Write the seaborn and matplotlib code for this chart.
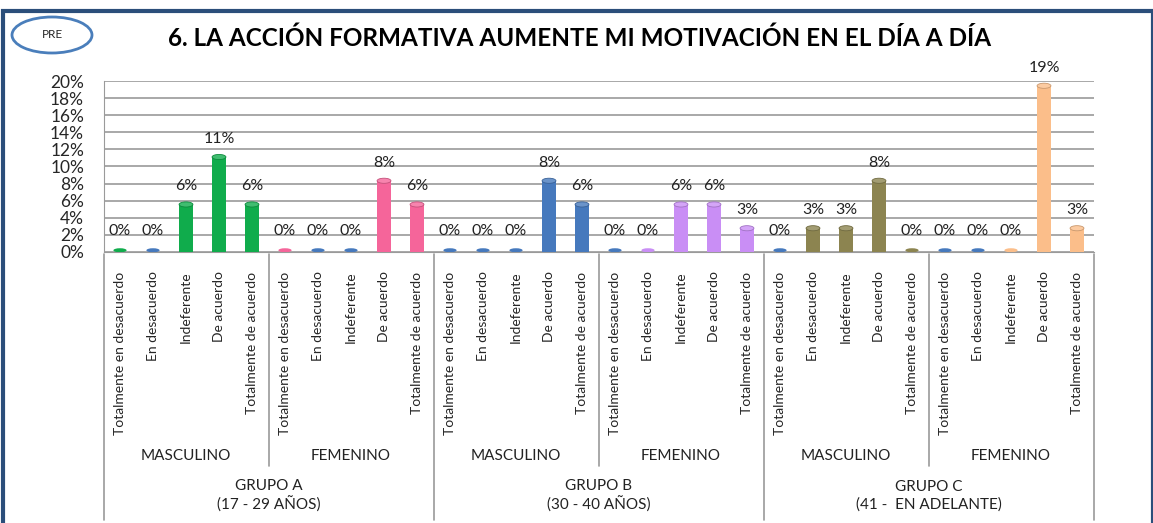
import numpy as np
import pandas as pd
import matplotlib.pyplot as plt
import seaborn as sns
from matplotlib.patches import Ellipse, Rectangle
import matplotlib.transforms as mtransforms

# data
respuestas = ['Totalmente en desacuerdo', 'En desacuerdo', 'Indeferente',
              'De acuerdo', 'Totalmente de acuerdo']
sexos = ['MASCULINO', 'FEMENINO']
grupos = ['GRUPO A\n(17 - 29 AÑOS)', 'GRUPO B\n(30 - 40 AÑOS)', 'GRUPO C\n(41 -  EN ADELANTE)']

a_masc = [0.0, 0.0, 0.0556, 0.1111, 0.0556]
a_fem = [0.0, 0.0, 0.0, 0.0833, 0.0556]
b_masc = [0.0, 0.0, 0.0, 0.0833, 0.0556]
b_fem = [0.0, 0.0, 0.0556, 0.0556, 0.0278]
c_masc = [0.0, 0.0278, 0.0278, 0.0833, 0.0]
c_fem = [0.0, 0.0, 0.0, 0.1944, 0.0278]

values = a_masc + a_fem + b_masc + b_fem + c_masc + c_fem

green, pink, blue = '#10AC4C', '#F5659A', '#4679BD'
violet, olive, peach = '#C98EF5', '#8C8450', '#FBBE8A'
colors = ([green, blue, green, green, green] + [pink, blue, blue, pink, pink] +
          [blue] * 5 + [blue, violet, violet, violet, violet] +
          [blue, olive, olive, olive, olive] + [blue, blue, peach, peach, peach])

df = pd.DataFrame({'pos': range(len(values)), 'valor': values, 'color': colors,
                   'resp': respuestas * 6})

sns.set_style('white')
plt.rcParams['font.family'] = ['Lato', 'DejaVu Sans']

fig = plt.figure(figsize=(11.53, 5.23), dpi=100)
ax = fig.add_axes([103.5 / 1153, 1 - 252 / 523, 990 / 1153, 171 / 523])

plot_df = df.copy()
plot_df['valor'] = plot_df['valor'].where(plot_df['valor'] > 0, np.nan)
sns.barplot(data=plot_df, x='pos', y='valor', hue='pos', palette=colors,
            saturation=1, legend=False, width=0.42, ax=ax, edgecolor='none',
            zorder=3)

def darker(c, f=0.8):
    r, g, b = plt.matplotlib.colors.to_rgb(c)
    return (r * f, g * f, b * f)

def lighter(c, f=0.2):
    r, g, b = plt.matplotlib.colors.to_rgb(c)
    return (r + (1 - r) * f, g + (1 - g) * f, b + (1 - b) * f)

for i, row in df.iterrows():
    v = row['valor']
    if v > 0:
        ax.add_patch(Ellipse((i, v), 0.42, 0.006, facecolor=lighter(row['color']),
                             edgecolor=darker(row['color']), lw=0.6, zorder=4))
    else:
        ax.add_patch(Ellipse((i, 0.002), 0.40, 0.0048, facecolor=row['color'],
                             edgecolor='none', zorder=4))
    ax.annotate(f'{v * 100:.0f}%', (i, v), xytext=(0, 8 if v > 0 else 10),
                textcoords='offset points', ha='center', va='bottom',
                fontsize=11.5, color='#222222')

ax.set_xlim(-0.5, 29.5)
ax.set_ylim(0, 0.2)
ax.set_yticks(np.arange(0, 0.201, 0.02))
ax.set_yticklabels([f'{t * 100:.0f}%' for t in np.arange(0, 0.201, 0.02)], fontsize=12.5)
ax.yaxis.grid(True, color='#9a9a9a', lw=1.2, zorder=0)
ax.set_xticks(range(len(values)))
ax.set_xticklabels(df['resp'], rotation=90, fontsize=10, va='top')
ax.tick_params(axis='x', length=0, pad=14)
ax.tick_params(axis='y', length=0, pad=14)
ax.set_xlabel('')
ax.set_ylabel('')
for s in ['top', 'right']:
    ax.spines[s].set_visible(False)
ax.spines['left'].set_color('#9a9a9a')
ax.spines['bottom'].set_color('#9a9a9a')

# multi-level category axis
trans = mtransforms.blended_transform_factory(ax.transData, fig.transFigure)
for k in range(7):
    x = k * 5 - 0.5
    if k % 2 == 0:
        y0 = 3 / 523
    else:
        y0 = 1 - 466 / 523
    ax.plot([x, x], [1 - 254 / 523, y0], transform=trans, color='#9a9a9a',
            lw=1.2, clip_on=False)
for k in range(6):
    ax.text(k * 5 + 2, 1 - 456 / 523, sexos[k % 2], transform=trans,
            ha='center', va='center', fontsize=11, color='#222222')
for k in range(3):
    ax.text(k * 10 + 4.5, 1 - 496 / 523, grupos[k], transform=trans,
            ha='center', va='center', fontsize=11, color='#222222',
            linespacing=1.3)

# title and badge
fig.text(0.503, 1 - 38 / 523, '6. LA ACCIÓN FORMATIVA AUMENTE MI MOTIVACIÓN EN EL DÍA A DÍA',
         ha='center', va='center', fontsize=17.5, fontweight='bold', color='black')
fig.patches.append(Ellipse((52 / 1153, 1 - 35 / 523), 80 / 1153, 36 / 523,
                           transform=fig.transFigure, facecolor='none',
                           edgecolor='#4A7EBB', lw=2))
fig.text(52 / 1153, 1 - 35 / 523, 'PRE', ha='center', va='center', fontsize=8.5)
fig.patches.append(Rectangle((3 / 1153, -0.02), 1150 / 1153, 1.0 - 1 / 523,
                             transform=fig.transFigure, facecolor='none',
                             edgecolor='#2B4E7A', lw=3))

fig.savefig('out.png', dpi=100)
